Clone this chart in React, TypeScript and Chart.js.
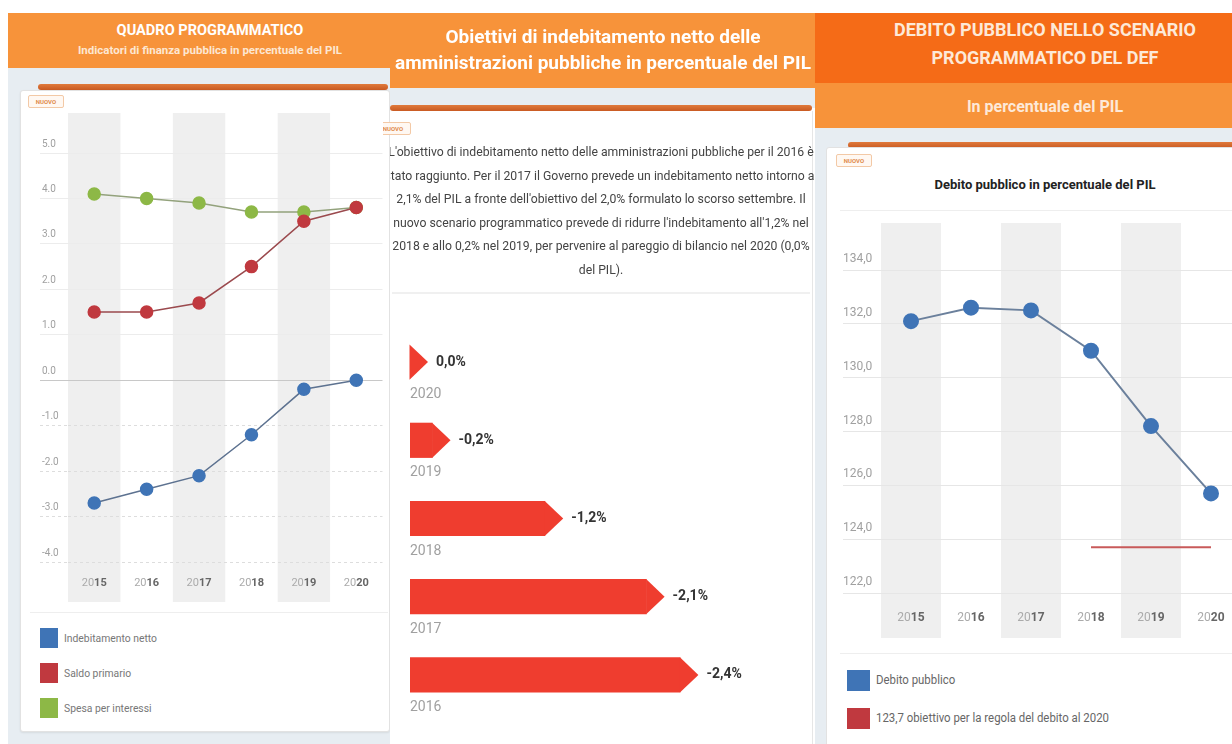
import React, { useEffect, useRef } from 'react';
import { Chart, registerables } from 'chart.js';

Chart.register(...registerables);

// ---------- DATA ----------
const years = ['2015', '2016', '2017', '2018', '2019', '2020'];
const indebitamentoNetto = [-2.7, -2.4, -2.1, -1.2, -0.2, 0.0];
const saldoPrimario = [1.5, 1.5, 1.7, 2.5, 3.5, 3.8];
const spesaInteressi = [4.1, 4.0, 3.9, 3.7, 3.7, 3.8];

const obiettiviYears = ['2020', '2019', '2018', '2017', '2016'];
const obiettiviValues = [0.0, -0.2, -1.2, -2.1, -2.4];

const debitoPubblico = [132.1, 132.6, 132.5, 131.0, 128.2, 125.7];
const obiettivoDebito = [null, null, null, 123.7, 123.7, 123.7];

const legendQuadro = ['Indebitamento netto', 'Saldo primario', 'Spesa per interessi'];
const legendDebito = ['Debito pubblico', '123,7 obiettivo per la regola del debito al 2020'];

const paragraphLines = [
  "L'obiettivo di indebitamento netto delle amministrazioni pubbliche per il 2016 è",
  'stato raggiunto. Per il 2017 il Governo prevede un indebitamento netto intorno al',
  "2,1% del PIL a fronte dell'obiettivo del 2,0% formulato lo scorso settembre. Il",
  "nuovo scenario programmatico prevede di ridurre l'indebitamento all'1,2% nel",
  '2018 e allo 0,2% nel 2019, per pervenire al pareggio di bilancio nel 2020 (0,0%',
  'del PIL).',
];

// ---------- STYLE ----------
const FONT = "Roboto, 'Noto Sans', sans-serif";
const BLUE = '#3F74B6';
const RED = '#C0393F';
const GREEN = '#8DB846';
const BAR_RED = '#EF3D2F';
const ORANGE = '#F7933A';
const DARK_ORANGE = '#F56B17';
const LIGHT_BG = '#E7EDF2';

const bandsPlugin = (ext: { top: number; bottom: number }) => ({
  id: 'bands',
  beforeDraw(chart: any) {
    const x = chart.scales.x;
    const area = chart.chartArea;
    const n = chart.data.labels.length;
    const w = area.width / n;
    const ctx = chart.ctx;
    ctx.save();
    ctx.fillStyle = '#efefef';
    for (let i = 0; i < n; i += 2) {
      const cx = x.getPixelForValue(i);
      ctx.fillRect(cx - w / 2, area.top - ext.top, w, area.height + ext.top + ext.bottom);
    }
    ctx.restore();
  },
});

const yearLabelsPlugin = (offset: number, size: number) => ({
  id: 'yearLabels',
  afterDraw(chart: any) {
    const x = chart.scales.x;
    const area = chart.chartArea;
    const ctx = chart.ctx;
    ctx.save();
    ctx.textBaseline = 'middle';
    ctx.textAlign = 'left';
    (chart.data.labels as string[]).forEach((lab, i) => {
      const a = lab.slice(0, 2);
      const b = lab.slice(2);
      ctx.font = `400 ${size}px ${FONT}`;
      const wa = ctx.measureText(a).width;
      ctx.font = `700 ${size}px ${FONT}`;
      const wb = ctx.measureText(b).width;
      const cx = x.getPixelForValue(i);
      const sx = cx - (wa + wb) / 2;
      const y = area.bottom + offset;
      ctx.font = `400 ${size}px ${FONT}`;
      ctx.fillStyle = '#aaaaaa';
      ctx.fillText(a, sx, y);
      ctx.font = `700 ${size}px ${FONT}`;
      ctx.fillStyle = '#666666';
      ctx.fillText(b, sx + wa, y);
    });
    ctx.restore();
  },
});

const chevronPlugin = {
  id: 'chevron',
  afterDatasetsDraw(chart: any) {
    const meta = chart.getDatasetMeta(0);
    const ctx = chart.ctx;
    const data = chart.data.datasets[0].data as number[];
    const labels = chart.data.labels as string[];
    ctx.save();
    meta.data.forEach((el: any, i: number) => {
      const endX = el.x;
      const h = el.height;
      const top = el.y - h / 2;
      const bottom = el.y + h / 2;
      ctx.fillStyle = BAR_RED;
      ctx.beginPath();
      ctx.moveTo(endX - 0.5, top);
      ctx.lineTo(endX + 18, el.y);
      ctx.lineTo(endX - 0.5, bottom);
      ctx.closePath();
      ctx.fill();
      const v = data[i];
      const txt = (v === 0 ? '0,0' : v.toFixed(1).replace('.', ',')) + '%';
      ctx.font = `700 14px ${FONT}`;
      ctx.fillStyle = '#333333';
      ctx.textBaseline = 'middle';
      ctx.textAlign = 'left';
      ctx.fillText(txt, endX + 26, el.y);
      ctx.font = `400 14px ${FONT}`;
      ctx.fillStyle = '#a0a0a0';
      ctx.fillText(labels[i], chart.chartArea.left, bottom + 15);
    });
    ctx.restore();
  },
};

function QuadroChart() {
  const ref = useRef<HTMLCanvasElement>(null);
  useEffect(() => {
    const chart = new Chart(ref.current as HTMLCanvasElement, {
      type: 'line',
      data: {
        labels: years,
        datasets: [
          { label: legendQuadro[0], data: indebitamentoNetto, borderColor: '#5d7290', backgroundColor: BLUE, pointBackgroundColor: BLUE, pointBorderColor: BLUE, pointRadius: 6, borderWidth: 1.5, tension: 0 },
          { label: legendQuadro[1], data: saldoPrimario, borderColor: '#9b4a4e', backgroundColor: RED, pointBackgroundColor: RED, pointBorderColor: RED, pointRadius: 6, borderWidth: 1.5, tension: 0 },
          { label: legendQuadro[2], data: spesaInteressi, borderColor: '#93a27c', backgroundColor: GREEN, pointBackgroundColor: GREEN, pointBorderColor: GREEN, pointRadius: 6, borderWidth: 1.5, tension: 0 },
        ],
      },
      options: {
        animation: false,
        responsive: false,
        maintainAspectRatio: false,
        layout: { padding: { left: 22, top: 48, right: 4, bottom: 48 } },
        plugins: { legend: { display: false }, tooltip: { enabled: false } },
        scales: {
          x: { type: 'category', display: false, offset: true },
          y: {
            min: -4,
            max: 5,
            afterFit: (s: any) => { s.width = 26; },
            ticks: {
              stepSize: 1,
              callback: (v: any) => Number(v).toFixed(1),
              crossAlign: 'far',
              labelOffset: -9,
              color: '#a0a0a0',
              font: { family: FONT, size: 10 },
            },
            grid: {
              color: (c: any) => (c.tick && c.tick.value === 0 ? '#c8c8c8' : c.tick && c.tick.value < 0 ? '#dddddd' : '#ececec'),
              tickLength: 28,
              tickBorderDash: (c: any) => (c.tick && c.tick.value < 0 ? [3, 3] : []),
            },
            border: { display: false, dash: (c: any) => (c.tick && c.tick.value < 0 ? [3, 3] : []) },
          },
        },
      } as any,
      plugins: [bandsPlugin({ top: 40, bottom: 40 }), yearLabelsPlugin(21, 11)],
    });
    return () => chart.destroy();
  }, []);
  return <canvas ref={ref} width={370} height={505} style={{ position: 'absolute', left: 20, top: 105, width: 370, height: 505 }} />;
}

function ObiettiviChart() {
  const ref = useRef<HTMLCanvasElement>(null);
  useEffect(() => {
    const chart = new Chart(ref.current as HTMLCanvasElement, {
      type: 'bar',
      data: {
        labels: obiettiviYears,
        datasets: [{ data: obiettiviValues, backgroundColor: BAR_RED, barPercentage: 1, categoryPercentage: 0.45, borderWidth: 0 }],
      },
      options: {
        indexAxis: 'y',
        animation: false,
        responsive: false,
        maintainAspectRatio: false,
        layout: { padding: { left: 20, top: 10, right: 64, bottom: 19 } },
        plugins: { legend: { display: false }, tooltip: { enabled: false } },
        scales: {
          x: { display: false, min: -3, max: 0, reverse: true },
          y: { display: false },
        },
      } as any,
      plugins: [chevronPlugin],
    });
    return () => chart.destroy();
  }, []);
  return <canvas ref={ref} width={422} height={420} style={{ position: 'absolute', left: 390, top: 313, width: 422, height: 420 }} />;
}

function DebitoChart() {
  const ref = useRef<HTMLCanvasElement>(null);
  useEffect(() => {
    const chart = new Chart(ref.current as HTMLCanvasElement, {
      type: 'line',
      data: {
        labels: years,
        datasets: [
          { label: legendDebito[0], data: debitoPubblico, borderColor: '#6b809c', backgroundColor: BLUE, pointBackgroundColor: BLUE, pointBorderColor: BLUE, pointRadius: 7, borderWidth: 2, tension: 0 },
          { label: legendDebito[1], data: obiettivoDebito, borderColor: '#C85A5A', backgroundColor: RED, pointRadius: 0, borderWidth: 2, tension: 0 },
        ],
      },
      options: {
        animation: false,
        responsive: false,
        maintainAspectRatio: false,
        layout: { padding: { left: 17, top: 55, right: 6, bottom: 57 } },
        plugins: { legend: { display: false }, tooltip: { enabled: false } },
        scales: {
          x: { type: 'category', display: false, offset: true },
          y: {
            min: 122,
            max: 134,
            afterFit: (s: any) => { s.width = 38; },
            ticks: {
              stepSize: 2,
              callback: (v: any) => Number(v).toFixed(1).replace('.', ','),
              crossAlign: 'far',
              labelOffset: -11,
              color: '#a0a0a0',
              font: { family: FONT, size: 12 },
            },
            grid: { color: '#e6e6e6', tickLength: 38 },
            border: { display: false },
          },
        },
      } as any,
      plugins: [bandsPlugin({ top: 47, bottom: 45 }), yearLabelsPlugin(25, 12)],
    });
    return () => chart.destroy();
  }, []);
  return <canvas ref={ref} width={424} height={435} style={{ position: 'absolute', left: 826, top: 215, width: 424, height: 435 }} />;
}

const abs = (s: React.CSSProperties): React.CSSProperties => ({ position: 'absolute', ...s });
const squeeze = (k: number, origin = 'center'): React.CSSProperties => ({ transform: `scaleX(${k})`, transformOrigin: origin });

function Nuovo({ left, top }: { left: number; top: number }) {
  return (
    <div style={abs({ left, top, width: 34, height: 11, border: '1px solid #f3c9a6', borderRadius: 2, background: '#fff8f2', color: '#e08a4a', fontSize: 6, lineHeight: '11px', textAlign: 'center', fontFamily: FONT, fontWeight: 700 })}>NUOVO</div>
  );
}

function Stripe({ left, top, width }: { left: number; top: number; width: number }) {
  return <div style={abs({ left, top, width, height: 6, borderRadius: 3, background: 'linear-gradient(#E07A3C, #C95A22)' })} />;
}

export default function App() {
  const white: React.CSSProperties = { color: '#ffffff', fontFamily: FONT, fontWeight: 700, textAlign: 'center', whiteSpace: 'nowrap' };
  return (
    <div style={{ position: 'fixed', left: 0, top: 0, width: 1232, height: 744, overflow: 'hidden', background: '#ffffff', fontFamily: FONT }}>
      {/* ---------- Panel 1 ---------- */}
      <div style={abs({ left: 8, top: 13, width: 382, height: 55, background: ORANGE })} />
      <div style={abs({ ...white, ...squeeze(0.97), left: 30, top: 20, width: 360, fontSize: 15, lineHeight: '20px' })}>QUADRO PROGRAMMATICO</div>
      <div style={abs({ ...white, left: 30, top: 43, width: 360, fontSize: 11.5, lineHeight: '14px', color: '#fde7d2' })}>Indicatori di finanza pubblica in percentuale del PIL</div>
      <div style={abs({ left: 8, top: 68, width: 382, height: 676, background: LIGHT_BG })} />
      <Stripe left={38} top={84} width={350} />
      <div style={abs({ left: 20, top: 90, width: 368, height: 640, background: '#fff', border: '1px solid #e2e2e2', borderRadius: 3, boxShadow: '0 1px 2px rgba(0,0,0,0.08)' })} />
      <Nuovo left={28} top={95} />
      <QuadroChart />
      <div style={abs({ left: 30, top: 612, width: 358, height: 1, background: '#eeeeee' })} />
      {legendQuadro.map((t, i) => (
        <React.Fragment key={t}>
          <div style={abs({ left: 40, top: 628 + i * 35, width: 18, height: 20, background: [BLUE, RED, GREEN][i] })} />
          <div style={abs({ ...squeeze(0.9, 'left'), left: 64, top: 628 + i * 35, height: 20, lineHeight: '20px', fontSize: 11.5, color: '#777', whiteSpace: 'nowrap' })}>{t}</div>
        </React.Fragment>
      ))}

      {/* ---------- Panel 2 ---------- */}
      <div style={abs({ left: 390, top: 13, width: 425, height: 75, background: ORANGE })} />
      <div style={abs({ ...white, left: 384, top: 24, width: 438, fontSize: 19, lineHeight: '26px' })}>
        Obiettivi di indebitamento netto delle<br />amministrazioni pubbliche in percentuale del PIL
      </div>
      <div style={abs({ left: 390, top: 88, width: 425, height: 20, background: LIGHT_BG })} />
      <Stripe left={390} top={105} width={422} />
      <div style={abs({ left: 390, top: 111, width: 422, height: 633, background: '#fff', borderRight: '1px solid #e6e6e6' })} />
      <div style={abs({ left: 383, top: 120, width: 45, height: 16, overflow: 'hidden' })}>
        <Nuovo left={-8} top={2} />
      </div>
      <div style={abs({ left: 390, top: 140, width: 424, height: 150, overflow: 'hidden' })}>
        <div style={abs({ ...squeeze(0.94), left: -43, top: 0, width: 508, textAlign: 'center', whiteSpace: 'nowrap', fontSize: 13, lineHeight: '23.6px', color: '#444' })}>
          {paragraphLines.map((l) => (
            <div key={l}>{l}</div>
          ))}
        </div>
      </div>
      <div style={abs({ left: 392, top: 292, width: 418, height: 2, background: '#f0f0f0' })} />
      <ObiettiviChart />

      {/* ---------- Panel 3 ---------- */}
      <div style={abs({ left: 815, top: 13, width: 417, height: 70, background: DARK_ORANGE })} />
      <div style={abs({ ...white, left: 830, top: 16, width: 430, fontSize: 18, lineHeight: '28px', color: '#fde9d8' })}>
        DEBITO PUBBLICO NELLO SCENARIO<br />PROGRAMMATICO DEL DEF
      </div>
      <div style={abs({ left: 815, top: 83, width: 417, height: 45, background: ORANGE })} />
      <div style={abs({ ...white, left: 830, top: 96, width: 430, fontSize: 16, lineHeight: '22px', color: '#fde9d8' })}>In percentuale del PIL</div>
      <div style={abs({ left: 815, top: 128, width: 417, height: 616, background: LIGHT_BG })} />
      <Stripe left={848} top={142} width={400} />
      <div style={abs({ left: 826, top: 147, width: 420, height: 610, background: '#fff', border: '1px solid #e2e2e2', borderRadius: 3 })} />
      <Nuovo left={836} top={154} />
      <div style={abs({ left: 830, top: 175, width: 430, textAlign: 'center', fontSize: 13, fontWeight: 700, color: '#222', lineHeight: '20px', whiteSpace: 'nowrap' })}>Debito pubblico in percentuale del PIL</div>
      <div style={abs({ left: 840, top: 210, width: 400, height: 1, background: '#eeeeee' })} />
      <DebitoChart />
      <div style={abs({ left: 840, top: 653, width: 400, height: 1, background: '#eeeeee' })} />
      {legendDebito.map((t, i) => (
        <React.Fragment key={t}>
          <div style={abs({ left: 847, top: 670 + i * 38, width: 23, height: 21, background: [BLUE, RED][i] })} />
          <div style={abs({ ...squeeze(0.95, 'left'), left: 876, top: 670 + i * 38, height: 21, lineHeight: '21px', fontSize: 12, color: '#666', whiteSpace: 'nowrap' })}>{t}</div>
        </React.Fragment>
      ))}
    </div>
  );
}
